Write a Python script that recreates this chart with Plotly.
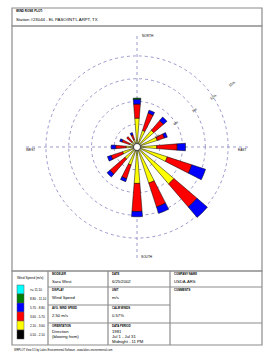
import plotly.graph_objects as go

W, H = 268, 358

# ---- data ----
directions = ["N", "NNE", "NE", "ENE", "E", "ESE", "SE", "SSE",
              "S", "SSW", "SW", "WSW", "W", "WNW", "NW", "NNW"]
angles = [0, 22.5, 45, 67.5, 90, 112.5, 135, 157.5,
          180, 202.5, 225, 247.5, 270, 292.5, 315, 337.5]
# frequency (%) per speed class, inner to outer
s_050_210 = [0.5, 0.5, 0.5, 0.5, 0.5, 0.5, 0.5, 0.5, 0.5, 0.5, 0.5, 0.5, 0.5, 0.4, 0.4, 0.4]
s_210_360 = [3.3, 1.8, 2.4, 2.3, 2.1, 3.7, 5.9, 4.5, 4.3, 2.0, 1.6, 1.5, 0.95, 0.65, 0.5, 0.65]
s_360_570 = [1.86, 2.4, 1.7, 1.0, 2.7, 3.4, 4.0, 3.3, 3.7, 1.9, 2.6, 1.6, 1.35, 1.05, 0.9, 0.65]
s_570_880 = [0.64, 0.4, 0.6, 0.4, 1.1, 1.9, 1.8, 0.9, 0.7, 0.4, 0.5, 0.5, 0.6, 0.3, 0.0, 0.3]
s_880_1110 = [0.15, 0, 0, 0, 0, 0, 0, 0, 0, 0, 0, 0, 0, 0, 0, 0]
s_ge_1110 = [0] * 16
calm_pct = 0.57

class_labels = [">= 11.10", "8.80 - 11.10", "5.70 - 8.80", "3.60 - 5.70", "2.10 - 3.60", "0.50 - 2.10"]
class_colors = ["#00FFFF", "#008000", "#0000FF", "#FF0000", "#FFFF00", "#000000"]
radial_ticks = [3, 6, 9, 12, 15]
radial_ticktext = ["3%", "6%", "9%", "12%", "15%"]

FONT = "Arial, Liberation Sans, sans-serif"
GRID = "#9A9ACC"
BORDER = "#8C8C8C"


def px(x):
    return x / W


def py(y):
    return 1 - y / H


fig = go.Figure()

series = [s_050_210, s_210_360, s_360_570, s_570_880, s_880_1110, s_ge_1110]
series_colors = list(reversed(class_colors))  # black, yellow, red, blue, green, cyan
for vals, col in zip(series, series_colors):
    fig.add_trace(go.Barpolar(
        r=vals, theta=angles, width=[9] * 16,
        marker=dict(color=col, line=dict(color="black", width=0.5)),
        showlegend=False, hoverinfo="skip"))

fig.add_trace(go.Scatterpolar(
    r=[0], theta=[0], mode="markers",
    marker=dict(size=7, color="white", line=dict(color="black", width=0.6)),
    showlegend=False, hoverinfo="skip"))

cx, cy, R = 137, 147, 114
fig.update_layout(
    width=W, height=H,
    margin=dict(l=0, r=0, t=0, b=0, pad=0),
    paper_bgcolor="white", plot_bgcolor="white",
    font=dict(family=FONT, color="black"),
    polar=dict(
        domain=dict(x=[px(cx - R), px(cx + R)], y=[py(cy + R), py(cy - R)]),
        bgcolor="white",
        barmode="stack",
        radialaxis=dict(range=[0, 15.02], tickvals=radial_ticks, ticktext=radial_ticktext,
                        showline=False, ticks="", angle=35,
                        tickfont=dict(size=3.5, color="black", family=FONT),
                        gridcolor=GRID, griddash="dot", gridwidth=0.8),
        angularaxis=dict(direction="clockwise", rotation=90, tickvals=[0, 90, 180, 270],
                         showticklabels=False, ticks="", showline=False,
                         gridcolor=GRID, griddash="dot", gridwidth=0.8),
    ),
)

shapes = []
def rect(x0, y0, x1, y1, w=1.2):
    shapes.append(dict(type="rect", xref="paper", yref="paper",
                       x0=px(x0), x1=px(x1), y0=py(y1), y1=py(y0),
                       line=dict(color=BORDER, width=w), fillcolor="rgba(0,0,0,0)"))

def line(x0, y0, x1, y1, w=1.2):
    shapes.append(dict(type="line", xref="paper", yref="paper",
                       x0=px(x0), x1=px(x1), y0=py(y0), y1=py(y1),
                       line=dict(color=BORDER, width=w)))

# frames
rect(12, 8, 262, 26)
rect(12, 26, 262, 271)
rect(12, 271, 262, 345)
# table grid
line(48, 271, 48, 345)
line(108, 271, 108, 345)
line(170, 271, 170, 345)
line(48, 287, 262, 287)
line(48, 305, 170, 305)
line(48, 323, 262, 323)

# legend swatches
sw_top, sw_h = 285, 9
for i, col in enumerate(class_colors):
    shapes.append(dict(type="rect", xref="paper", yref="paper",
                       x0=px(17), x1=px(24), y0=py(sw_top + (i + 1) * sw_h), y1=py(sw_top + i * sw_h),
                       line=dict(color="#555555", width=0.5), fillcolor=col))

annotations = []
def txt(x, y, s, size=4, bold=False, anchor="left"):
    annotations.append(dict(xref="paper", yref="paper", x=px(x), y=py(y), text=("<b>%s</b>" % s) if bold else s,
                            showarrow=False, xanchor=anchor, yanchor="middle",
                            font=dict(size=size, family=FONT, color="black")))

txt(14, 11.5, "WIND ROSE PLOT:", 3, True)
txt(14, 19, "Station #23044 - EL PASO/INT'L ARPT, TX", 4.3)

# compass labels
txt(140, 36, "NORTH", 3.2)
txt(236, 150.5, "EAST", 3.2)
txt(24, 150.5, "WEST", 3.2)
txt(139, 257, "SOUTH", 3.2)

# legend
txt(30, 277.5, "Wind Speed (m/s)", 3.3, anchor="center")
for i, lab in enumerate(class_labels):
    txt(28, sw_top + i * sw_h + sw_h / 2, lab, 3.1)

# table cells
txt(50, 274, "MODELER", 2.8, True)
txt(50, 281, "Sara West", 4.2)
txt(50, 290, "DISPLAY", 2.8, True)
txt(50, 297, "Wind Speed", 4.2)
txt(50, 308, "AVG. WIND SPEED", 2.8, True)
txt(50, 315, "2.50 m/s", 4.2)
txt(50, 326, "ORIENTATION", 2.8, True)
txt(50, 331, "Direction", 4.2)
txt(50, 336.5, "(blowing from)", 4.2)

txt(110, 274, "DATE", 2.8, True)
txt(110, 281, "6/25/2002", 4.2)
txt(110, 290, "UNIT", 2.8, True)
txt(110, 297, "m/s", 4.2)
txt(110, 308, "CALM WINDS", 2.8, True)
txt(110, 315, "%.2f%%" % calm_pct, 4.2)
txt(110, 326, "DATA PERIOD", 2.8, True)
txt(110, 331, "1981", 4.2)
txt(110, 336, "Jul 1 - Jul 31", 4.2)
txt(110, 341, "Midnight - 11 PM", 4.2)

txt(172, 274, "COMPANY NAME", 2.8, True)
txt(172, 281, "USDA-ARS", 4.2)
txt(172, 290, "COMMENTS", 2.8, True)

txt(12, 349.5, "WRPLOT View 3.5 by Lakes Environmental Software - www.lakes-environmental.com", 2.6)

fig.update_layout(shapes=shapes, annotations=annotations)
fig.write_html("out.html")
